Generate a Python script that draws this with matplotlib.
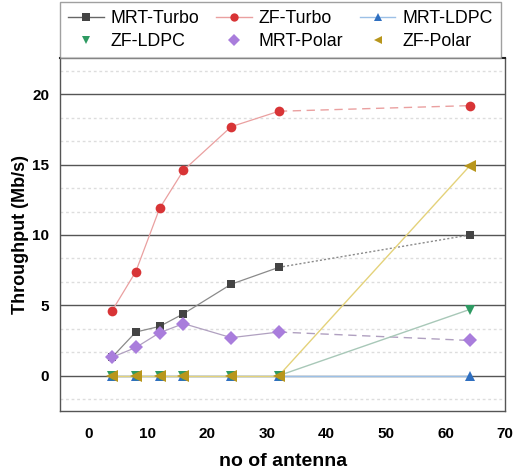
import numpy as np
import matplotlib.pyplot as plt
from matplotlib.ticker import MultipleLocator

plt.rcParams['font.family'] = ['Liberation Sans', 'DejaVu Sans']
plt.rcParams['font.weight'] = 'bold'

# data
antennas = [4, 8, 12, 16, 24, 32, 64]
mrt_turbo = [1.3, 3.1, 3.5, 4.4, 6.5, 7.7, 10.0]
zf_turbo = [4.6, 7.4, 11.9, 14.6, 17.7, 18.8, 19.2]
mrt_ldpc = [0, 0, 0, 0, 0, 0, 0]
zf_ldpc = [0, 0, 0, 0, 0, 0, 4.7]
mrt_polar = [1.3, 2.0, 3.05, 3.7, 2.7, 3.1, 2.5]
zf_polar = [0, 0, 0, 0, 0, 0, 14.9]

names = ['MRT-Turbo', 'ZF-Turbo', 'MRT-LDPC', 'ZF-LDPC', 'MRT-Polar', 'ZF-Polar']
series = [mrt_turbo, zf_turbo, mrt_ldpc, zf_ldpc, mrt_polar, zf_polar]
markers = ['s', 'o', '^', 'v', 'D', '<']
mcolors = ['#444444', '#d83436', '#2f6fc0', '#2e9a62', '#a97ddc', '#b8961c']
lcolors = ['#8a8a8a', '#eaa0a0', '#9cc0e6', '#a8c8b8', '#b0a0c0', '#e4d27a']
tail_styles = [(0, (1.5, 1.5)), (0, (6, 4)), '-', '-', (0, (6, 4)), '-']
msizes = [6, 7, 7, 7, 7, 8.5]

fig = plt.figure(figsize=(5.14, 4.70), dpi=100)
ax = fig.add_axes([0.117, 0.126, 0.866, 0.751])

x = np.array(antennas)
order = [0, 1, 4, 2, 3, 5]
for i in order:
    y = np.array(series[i])
    ax.plot(x[:6], y[:6], '-', color=lcolors[i], lw=0.9, zorder=2)
    ax.plot(x[5:], y[5:], linestyle=tail_styles[i], color=lcolors[i], lw=1.0, zorder=2)
    ax.plot(x, y, linestyle='none', marker=markers[i], color=mcolors[i],
            ms=msizes[i], markeredgewidth=0, zorder=3 + i)

handles = []
for i in range(6):
    ls = '-' if i < 3 else 'none'
    h, = ax.plot([], [], linestyle=ls, color=lcolors[i] if i != 0 else '#666666',
                 marker=markers[i], markerfacecolor=mcolors[i], markeredgewidth=0,
                 ms=6, lw=1.0)
    handles.append(h)

# legend fills column by column, reorder so it reads row by row
leg_order = [0, 3, 1, 4, 2, 5]

ax.set_xlim(-4.7, 69.3)
ax.set_ylim(-2.5, 22.6)
ax.set_xticks([0, 10, 20, 30, 40, 50, 60, 70])
ax.set_yticks([0, 5, 10, 15, 20])
ax.yaxis.set_minor_locator(MultipleLocator(5 / 3))
ax.tick_params(axis='both', which='both', length=0, labelsize=11)
ax.tick_params(axis='x', pad=12)
ax.tick_params(axis='y', pad=8)
ax.grid(axis='y', which='major', color='#555555', lw=1.0, zorder=1)
ax.grid(axis='y', which='minor', color='#dddddd', lw=1.0, linestyle=(0, (2, 2)), zorder=1)
ax.set_axisbelow(True)
for s in ax.spines.values():
    s.set_color('#555555')
    s.set_linewidth(1.0)
ax.spines['top'].set_color('#222222')
ax.spines['top'].set_linewidth(1.5)

ax.set_xlabel('no of antenna', fontsize=14, fontweight='bold', labelpad=8)
ax.set_ylabel('Throughput (Mb/s)', fontsize=13, fontweight='bold', labelpad=2)

leg = ax.legend([handles[k] for k in leg_order], [names[k] for k in leg_order],
                ncol=3, loc='lower left',
                bbox_to_anchor=(0.0, 1.0, 0.99, 0.155), mode='expand',
                borderaxespad=0, fancybox=False,
                handlelength=2.0, handletextpad=0.4, columnspacing=0.3,
                labelspacing=0.3, borderpad=0.45,
                prop={'family': ['Liberation Sans'], 'weight': 'normal', 'size': 12.8})
leg.get_frame().set_edgecolor('#888888')
leg.get_frame().set_linewidth(1.0)

fig.savefig('out.png', dpi=100)
